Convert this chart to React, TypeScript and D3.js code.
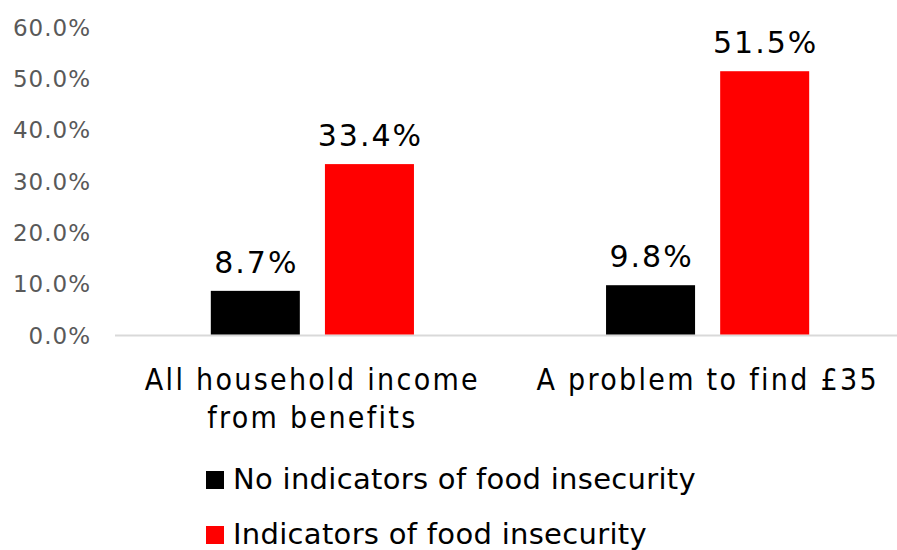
import React from "react";
import * as d3 from "d3";

const categories = [["All household income", "from benefits"], ["A problem to find £35"]];
const categoryKeys = ["benefits", "find35"];
const seriesNames = ["No indicators of food insecurity", "Indicators of food insecurity"];
const seriesColors = ["#000000", "#FF0000"];
const noIndicators = [8.7, 9.8];
const withIndicators = [33.4, 51.5];
const yTicks = [0, 10, 20, 30, 40, 50, 60];

export default function App() {
  const W = 897, H = 550;
  const axisX0 = 115, yBase = 335.5, yTop = 27.6;
  const x = d3.scaleBand().domain(categoryKeys).range([112, 908]).paddingInner(0.486).paddingOuter(0.25);
  const y = d3.scaleLinear().domain([0, 60]).range([yBase, yTop]);
  const series = [noIndicators, withIndicators];
  const xs = d3.scaleBand().domain(["0", "1"]).range([0, x.bandwidth()]).paddingInner(0.22);
  const font = "'DejaVu Sans', Verdana, sans-serif";
  return (
    <svg width={W} height={H} style={{ position: "absolute", left: 0, top: 0, background: "#fff" }}>
      {yTicks.map((t) => (
        <text key={t} x={91} y={y(t)} dy="0.35em" textAnchor="end" fontFamily={font} fontSize={23} letterSpacing={1} fill="#595959">
          {d3.format(".1f")(t) + "%"}
        </text>
      ))}
      <line x1={axisX0} x2={897} y1={yBase} y2={yBase} stroke="#d9d9d9" strokeWidth={2} />
      {categoryKeys.map((k, i) => (
        <g key={k} transform={`translate(${x(k)},0)`}>
          {series.map((s, j) => (
            <g key={j}>
              <rect x={xs(String(j))} width={xs.bandwidth()} y={y(s[i])} height={yBase - 1 - y(s[i])} fill={seriesColors[j]} />
              <text x={(xs(String(j)) as number) + xs.bandwidth() / 2 + 1} y={y(s[i]) - 18} textAnchor="middle" fontFamily={font} fontSize={30} letterSpacing={2} fill="#000">
                {s[i].toFixed(1) + "%"}
              </text>
            </g>
          ))}
          {categories[i].map((line, li) => (
            <text key={li} x={x.bandwidth() / 2} y={390 + li * 38} textAnchor="middle" fontFamily="'DejaVu Sans Condensed', 'DejaVu Sans', sans-serif" fontStretch="condensed" fontSize={30} letterSpacing={2.3} fill="#000">
              {line}
            </text>
          ))}
        </g>
      ))}
      {seriesNames.map((n, j) => (
        <g key={n} transform={`translate(206, ${489 + j * 55})`}>
          <rect x={0} y={-18} width={18} height={18} fill={seriesColors[j]} />
          <text x={27} y={0} fontFamily={font} fontSize={29} letterSpacing={0.3} fill="#000">{n}</text>
        </g>
      ))}
    </svg>
  );
}
